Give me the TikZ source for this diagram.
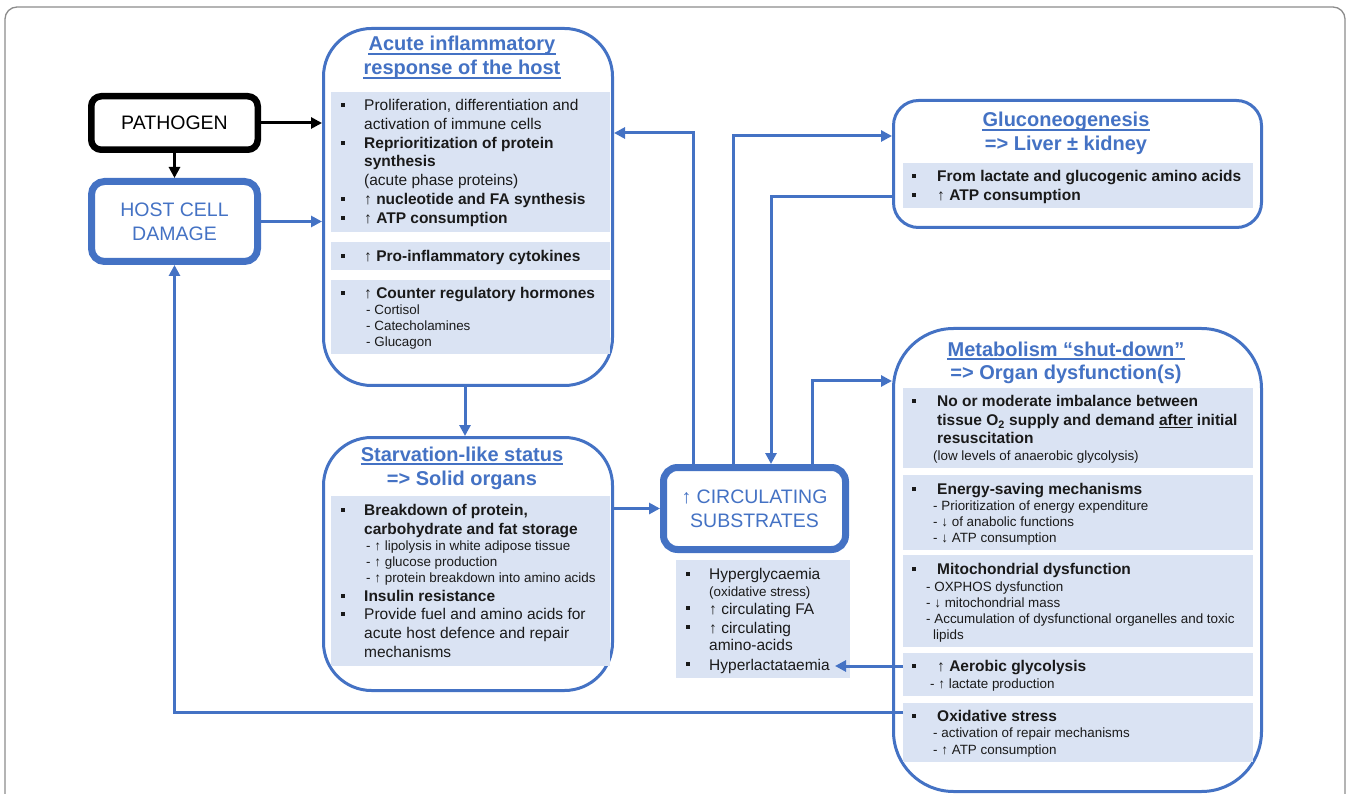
\documentclass[tikz,border=0pt]{standalone}
\usepackage{fontspec}
\setmainfont{Liberation Sans}
\usetikzlibrary{arrows.meta,calc}
\definecolor{myblue}{HTML}{4472C4}
\definecolor{panel}{HTML}{DAE3F3}
\definecolor{ink}{HTML}{1A1A1A}
\definecolor{framegray}{HTML}{8C8C8C}
\newcounter{tl}
\newcommand\TL[4]{\stepcounter{tl}\node[#1] (tl\arabic{tl}) at (#2,#3) {#4};}
\newcommand\BUL[2]{\stepcounter{tl}\node[bul] (bu\arabic{tl}) at (#1,#2) {};}
\newcommand\UL[1]{\draw[ul] ([yshift=-3pt]#1.base west) -- ([yshift=-3pt]#1.base east);}
\tikzset{
  body/.style={anchor=base west,inner sep=0pt,text=ink,font=\fontsize{15.5}{18}\selectfont},
  bodyb/.style={anchor=base west,inner sep=0pt,text=ink,font=\fontsize{15.5}{18}\selectfont\bfseries},
  small/.style={anchor=base west,inner sep=0pt,text=ink,font=\fontsize{13.4}{16}\selectfont},
  ttl/.style={anchor=base,inner sep=0pt,text=myblue,font=\fontsize{20}{24}\selectfont\bfseries},
  ul/.style={draw=myblue,line width=1.5pt},
  bul/.style={rectangle,fill=ink,draw=none,minimum size=4.5pt,inner sep=0pt},
  pnl/.style={rectangle,fill=panel,draw=none,inner sep=0pt,outer sep=0pt,anchor=north west},
  bigbox/.style={rectangle,draw=myblue,line width=3pt,fill=white,inner sep=0pt},
  thickbox/.style={rectangle,draw=myblue,line width=7pt,fill=white,inner sep=0pt,text=myblue,align=center,font=\fontsize{19.5}{24}\selectfont},
  conn/.style={draw=myblue,line width=3pt,-{Triangle[length=11pt,width=11pt]}},
  blkconn/.style={draw=black,line width=3pt,-{Triangle[length=11pt,width=11pt]}},
  framebox/.style={draw=framegray,line width=1.3pt,rounded corners=12pt}
}
\begin{document}
\begin{tikzpicture}[x=1pt,y=-1pt]
\useasboundingbox (0,0) rectangle (1350,794);
\clip (0,0) rectangle (1350,794);
\draw[framebox] (5,7) rectangle (1345,850);

% ---- boxes
\node[draw=black,line width=6.5pt,rounded corners=10pt,fill=white,inner sep=0pt,
      minimum width=166.5pt,minimum height=53.5pt,text=black,font=\fontsize{19.5}{24}\selectfont] (pathogen) at (174.5,123) {PATHOGEN};
\node[thickbox,rounded corners=13pt,minimum width=166pt,minimum height=80pt] (host) at (174.5,221.5) {HOST CELL\\DAMAGE};
\node[bigbox,rounded corners=48pt,minimum width=289pt,minimum height=357pt] (acute) at (468,207) {};
\node[bigbox,rounded corners=48pt,minimum width=289pt,minimum height=253pt] (starv) at (468,564) {};
\node[bigbox,rounded corners=25pt,minimum width=368pt,minimum height=127pt] (gluco) at (1077.5,164) {};
\node[bigbox,rounded corners=60pt,minimum width=368pt,minimum height=463pt] (metab) at (1077.5,560) {};
\node[thickbox,rounded corners=14pt,minimum width=182pt,minimum height=82pt] (circ) at (754.5,508.5) {↑ CIRCULATING\\SUBSTRATES};

% ---- panels
\node[pnl,minimum width=279pt,minimum height=140pt] (ap1) at (331,92) {};
\node[pnl,minimum width=279pt,minimum height=28pt] (ap2) at (331,242) {};
\node[pnl,minimum width=279pt,minimum height=74pt] (ap3) at (331,280) {};
\node[pnl,minimum width=279pt,minimum height=170pt] (sp) at (331,496) {};
\node[pnl,minimum width=174pt,minimum height=118pt] (subs) at (676,560) {};
\node[pnl,minimum width=350pt,minimum height=45pt] (gp) at (903,163) {};
\node[pnl,minimum width=350pt,minimum height=80pt] (mp1) at (903,388) {};
\node[pnl,minimum width=350pt,minimum height=75pt] (mp2) at (903,475) {};
\node[pnl,minimum width=350pt,minimum height=92pt] (mp3) at (903,555) {};
\node[pnl,minimum width=350pt,minimum height=43pt] (mp4) at (903,653) {};
\node[pnl,minimum width=350pt,minimum height=59pt] (mp5) at (903,703) {};

% ---- titles
\node[ttl] (ta1) at (462,51) {Acute inflammatory};
\node[ttl] (ta2) at (462,75) {response of the host};
\node[ttl] (tg1) at (1066,127) {Gluconeogenesis};
\node[ttl] (tg2) at (1066,151) {=> Liver ± kidney};
\node[ttl] (ts1) at (462,461) {Starvation-like status};
\node[ttl] (ts2) at (462,485) {=> Solid organs};
\node[ttl] (tm1) at (1066,356) {Metabolism “shut-down”};
\node[ttl] (tm2) at (1066,380) {=> Organ dysfunction(s)};
\UL{ta1}\UL{ta2}\UL{tg1}\UL{ts1}\UL{tm1}

% ---- acute inflammatory text
\BUL{343}{105}\TL{body}{364}{110.5}{Proliferation, differentiation and}
\TL{body}{364}{129.5}{activation of immune cells}
\BUL{343}{143}\TL{bodyb}{364}{148.5}{Reprioritization of protein}
\TL{bodyb}{364}{166.5}{synthesis}
\TL{body}{364}{185.5}{(acute phase proteins)}
\BUL{343}{199}\TL{bodyb}{364}{204.5}{{\mdseries ↑} nucleotide and FA synthesis}
\BUL{343}{218}\TL{bodyb}{364}{223.5}{{\mdseries ↑} ATP consumption}
\BUL{343}{256}\TL{bodyb}{364}{261.5}{{\mdseries ↑} Pro-inflammatory cytokines}
\BUL{343}{293}\TL{bodyb}{364}{298.5}{{\mdseries ↑} Counter regulatory hormones}
\TL{small}{366}{314.8}{- Cortisol}
\TL{small}{366}{330.8}{- Catecholamines}
\TL{small}{366}{346.8}{- Glucagon}

% ---- starvation text
\BUL{343}{510}\TL{bodyb}{364}{515.5}{Breakdown of protein,}
\TL{bodyb}{364}{534.5}{carbohydrate and fat storage}
\TL{small}{366}{550.8}{- ↑ lipolysis in white adipose tissue}
\TL{small}{366}{566.8}{- ↑ glucose production}
\TL{small}{366}{582.8}{- ↑ protein breakdown into amino acids}
\BUL{343}{596}\TL{bodyb}{364}{601.5}{Insulin resistance}
\BUL{343}{614}\TL{body}{364}{619.5}{Provide fuel and amino acids for}
\TL{body}{364}{638.5}{acute host defence and repair}
\TL{body}{364}{657.5}{mechanisms}

% ---- substrates text
\BUL{688}{574}\TL{body}{709}{579}{Hyperglycaemia}
\TL{small}{709}{596}{(oxidative stress)}
\BUL{688}{608}\TL{body}{709}{614}{↑ circulating FA}
\BUL{688}{627}\TL{body}{709}{633}{↑ circulating}
\TL{body}{709}{650}{amino-acids}
\BUL{688}{664}\node[body] (hyperlac) at (709,670) {Hyperlactataemia};

% ---- gluconeogenesis text
\BUL{914}{176}\TL{bodyb}{937}{181.5}{From lactate and glucogenic amino acids}
\BUL{914}{195}\TL{bodyb}{937}{200.5}{{\mdseries ↑} ATP consumption}

% ---- metabolism text
\BUL{914}{401}\TL{bodyb}{937}{406.5}{No or moderate imbalance between}
\TL{bodyb}{937}{425.5}{tissue O\textsubscript{2} supply and demand \underline{after} initial}
\TL{bodyb}{937}{443.5}{resuscitation}
\TL{small}{933}{460.8}{(low levels of anaerobic glycolysis)}
\BUL{914}{489}\TL{bodyb}{937}{494.5}{Energy-saving mechanisms}
\TL{small}{933}{510.8}{- Prioritization of energy expenditure}
\TL{small}{933}{526.8}{- ↓ of anabolic functions}
\TL{small}{933}{542.8}{- ↓ ATP consumption}
\BUL{914}{569}\TL{bodyb}{937}{574.5}{Mitochondrial dysfunction}
\TL{small}{926}{591.8}{- OXPHOS dysfunction}
\TL{small}{926}{607.8}{- ↓ mitochondrial mass}
\TL{small}{926}{623.8}{- Accumulation of dysfunctional organelles and toxic}
\TL{small}{933}{639.8}{lipids}
\BUL{914}{666}\TL{bodyb}{937}{671.5}{{\mdseries ↑} Aerobic glycolysis}
\TL{small}{930}{688.8}{- ↑ lactate production}
\BUL{914}{716}\TL{bodyb}{937}{721.5}{Oxidative stress}
\TL{small}{933}{737.8}{- activation of repair mechanisms}
\TL{small}{933}{754.8}{- ↑ ATP consumption}

% ---- connectors
\draw[blkconn] (pathogen.east) -- (pathogen.east -| acute.west);
\draw[blkconn] (pathogen.south) -- (host.north);
\draw[conn] (host.east) -- (host.east -| acute.west);
\draw[conn] ([xshift=-3pt]acute.south) -- ([xshift=-3pt]starv.north);
\draw[conn] (starv.east |- circ.west) -- (circ.west);
\coordinate (toacute) at ($(acute.north east)+(0,106)$);
\draw[conn] ([xshift=-61.5pt]circ.north) |- (toacute);
\coordinate (togluco) at ($(gluco.north west)+(0,37)$);
\draw[conn] ([xshift=-21.5pt]circ.north) |- (togluco);
\coordinate (fromgluco) at ($(gluco.north west)+(0,98)$);
\draw[conn] (fromgluco) -| ([xshift=16.5pt]circ.north);
\coordinate (tometab) at ($(metab.north west)+(0,54)$);
\draw[conn] ([xshift=57.5pt]circ.north) |- (tometab);
\coordinate (aer) at ($(mp4.north west)+(0,13)$);
\coordinate (lacend) at ($(hyperlac.east)+(5,0)$);
\draw[conn] (aer) -- (aer -| lacend);
\coordinate (oxs) at ($(mp5.north west)+(0,9)$);
\draw[conn] (oxs) -| (host.south);
\end{tikzpicture}
\end{document}
